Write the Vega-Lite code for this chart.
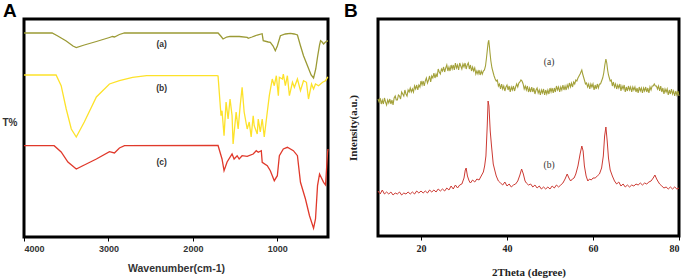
{
 "$schema": "https://vega.github.io/schema/vega-lite/v6.json",
 "padding": {"left": 0, "top": 0, "right": 5, "bottom": 4},
 "background": "white",
 "config": {"view": {"stroke": "#000", "strokeWidth": 3}, "axis": {"grid": false}},
 "spacing": 9,
 "datasets": {
  "fa": [{"w":4000,"t":204},{"w":3667,"t":204},{"w":3600,"t":201},{"w":3500,"t":196},{"w":3420,"t":191},{"w":3381,"t":189.5},{"w":3286,"t":192},{"w":3143,"t":195.5},{"w":2988,"t":199.5},{"w":2952,"t":200.5},{"w":2929,"t":200},{"w":2870,"t":202.5},{"w":2810,"t":204},{"w":1702,"t":204},{"w":1670,"t":201},{"w":1643,"t":198},{"w":1600,"t":200},{"w":1560,"t":200.7},{"w":1450,"t":200.5},{"w":1357,"t":199.7},{"w":1345,"t":198.7},{"w":1300,"t":200},{"w":1238,"t":202},{"w":1180,"t":203.3},{"w":1167,"t":196.3},{"w":1107,"t":195},{"w":1083,"t":194.7},{"w":1050,"t":191},{"w":1024,"t":186.3},{"w":1000,"t":191},{"w":964,"t":201.3},{"w":905,"t":203},{"w":845,"t":203.7},{"w":800,"t":203},{"w":762,"t":202},{"w":726,"t":191.3},{"w":690,"t":181.3},{"w":643,"t":171.3},{"w":600,"t":162},{"w":571,"t":159},{"w":545,"t":168},{"w":524,"t":180},{"w":500,"t":192},{"w":488,"t":196.3},{"w":470,"t":195},{"w":452,"t":193},{"w":430,"t":195},{"w":405,"t":196},{"w":400,"t":196}],
  "fb": [{"w":4000,"t":162},{"w":3620,"t":162},{"w":3560,"t":151.3},{"w":3500,"t":128},{"w":3440,"t":108},{"w":3381,"t":100},{"w":3286,"t":115},{"w":3143,"t":140},{"w":2988,"t":153},{"w":2870,"t":156.3},{"w":2714,"t":159.7},{"w":2548,"t":161.3},{"w":1714,"t":161.3},{"w":1702,"t":161},{"w":1667,"t":121.3},{"w":1655,"t":126.3},{"w":1631,"t":101.3},{"w":1607,"t":135},{"w":1583,"t":118},{"w":1560,"t":138},{"w":1536,"t":121.3},{"w":1524,"t":93},{"w":1488,"t":125},{"w":1464,"t":108},{"w":1440,"t":131.3},{"w":1417,"t":149.7},{"w":1393,"t":125},{"w":1357,"t":108},{"w":1333,"t":115},{"w":1310,"t":100},{"w":1286,"t":121.3},{"w":1274,"t":111.3},{"w":1238,"t":103},{"w":1226,"t":118},{"w":1202,"t":105},{"w":1179,"t":118},{"w":1155,"t":100},{"w":1119,"t":125},{"w":1095,"t":141.3},{"w":1060,"t":158},{"w":1036,"t":151.3},{"w":1012,"t":161.3},{"w":988,"t":141.3},{"w":976,"t":159.7},{"w":940,"t":158},{"w":929,"t":163},{"w":905,"t":151.3},{"w":881,"t":161.3},{"w":857,"t":141.3},{"w":821,"t":154.7},{"w":798,"t":149.7},{"w":762,"t":158},{"w":726,"t":146.3},{"w":690,"t":156.3},{"w":655,"t":154.7},{"w":631,"t":138},{"w":595,"t":153},{"w":571,"t":148},{"w":548,"t":153},{"w":512,"t":151.3},{"w":464,"t":154.7},{"w":429,"t":156.3},{"w":405,"t":159.7},{"w":400,"t":160}],
  "fc": [{"w":4000,"t":91.3},{"w":3643,"t":91.3},{"w":3560,"t":85},{"w":3480,"t":75},{"w":3381,"t":68},{"w":3286,"t":72},{"w":3143,"t":78},{"w":2988,"t":85.3},{"w":2929,"t":84},{"w":2870,"t":89},{"w":2810,"t":91.3},{"w":1702,"t":91.5},{"w":1655,"t":78},{"w":1631,"t":66.3},{"w":1595,"t":75},{"w":1536,"t":83},{"w":1512,"t":78},{"w":1476,"t":81.3},{"w":1452,"t":78},{"w":1417,"t":81.3},{"w":1357,"t":80.7},{"w":1286,"t":83},{"w":1250,"t":86.3},{"w":1226,"t":84.7},{"w":1190,"t":86.3},{"w":1179,"t":74.7},{"w":1119,"t":71.3},{"w":1083,"t":66.3},{"w":1036,"t":56.3},{"w":1000,"t":61.3},{"w":976,"t":81.3},{"w":929,"t":88},{"w":881,"t":89.7},{"w":810,"t":86.3},{"w":762,"t":81.3},{"w":726,"t":54.7},{"w":667,"t":38},{"w":619,"t":21.3},{"w":571,"t":8.7},{"w":548,"t":18},{"w":524,"t":51.3},{"w":500,"t":63},{"w":452,"t":54.7},{"w":429,"t":52},{"w":405,"t":84.7},{"w":400,"t":88}],
  "la": [{"w":2370,"t":193,"label":"(a)"},{"w":2370,"t":149,"label":"(b)"},{"w":2370,"t":75,"label":"(c)"}],
  "xa": [{"x":10,"y":137},{"x":10.25,"y":134},{"x":10.5,"y":138},{"x":10.75,"y":132},{"x":11,"y":136},{"x":11.25,"y":132},{"x":11.5,"y":138},{"x":11.75,"y":134},{"x":12,"y":131},{"x":12.25,"y":136},{"x":12.5,"y":133},{"x":12.75,"y":137},{"x":13,"y":132},{"x":13.25,"y":136},{"x":13.5,"y":131},{"x":13.75,"y":138},{"x":14,"y":140},{"x":14.25,"y":136},{"x":14.5,"y":136},{"x":14.75,"y":141},{"x":15,"y":140},{"x":15.25,"y":137},{"x":15.5,"y":144},{"x":15.75,"y":142},{"x":16,"y":140},{"x":16.25,"y":146},{"x":16.5,"y":142},{"x":16.75,"y":140},{"x":17,"y":146},{"x":17.25,"y":144},{"x":17.5,"y":148},{"x":17.75,"y":144},{"x":18,"y":147},{"x":18.25,"y":144},{"x":18.5,"y":150},{"x":18.75,"y":147},{"x":19,"y":151},{"x":19.25,"y":146},{"x":19.5,"y":151},{"x":19.75,"y":149},{"x":20,"y":155},{"x":20.25,"y":151},{"x":20.5,"y":155},{"x":20.75,"y":150},{"x":21,"y":155},{"x":21.25,"y":158},{"x":21.5,"y":153},{"x":21.75,"y":156},{"x":22,"y":160},{"x":22.25,"y":154},{"x":22.5,"y":160},{"x":22.75,"y":158},{"x":23,"y":163},{"x":23.25,"y":158},{"x":23.5,"y":162},{"x":23.75,"y":159},{"x":24,"y":167},{"x":24.25,"y":164},{"x":24.5,"y":162},{"x":24.75,"y":167},{"x":25,"y":165},{"x":25.25,"y":169},{"x":25.5,"y":164},{"x":25.75,"y":168},{"x":26,"y":171},{"x":26.25,"y":165},{"x":26.5,"y":169},{"x":26.75,"y":165},{"x":27,"y":171},{"x":27.25,"y":167},{"x":27.5,"y":171},{"x":27.75,"y":166},{"x":28,"y":173},{"x":28.25,"y":168},{"x":28.5,"y":171},{"x":28.75,"y":166},{"x":29,"y":173},{"x":29.25,"y":170},{"x":29.5,"y":167},{"x":29.75,"y":172},{"x":30,"y":169},{"x":30.25,"y":173},{"x":30.5,"y":167},{"x":30.75,"y":171},{"x":31,"y":173},{"x":31.25,"y":167},{"x":31.5,"y":171},{"x":31.75,"y":165},{"x":32,"y":169},{"x":32.25,"y":165},{"x":32.5,"y":168},{"x":32.75,"y":162},{"x":33,"y":165},{"x":33.25,"y":162},{"x":33.5,"y":166},{"x":33.75,"y":161},{"x":34,"y":165},{"x":34.25,"y":162},{"x":34.5,"y":165},{"x":34.75,"y":166},{"x":35,"y":170},{"x":35.2,"y":177},{"x":35.4,"y":185},{"x":35.6,"y":193},{"x":35.75,"y":196},{"x":35.9,"y":190},{"x":36.05,"y":183},{"x":36.25,"y":175},{"x":36.5,"y":168},{"x":36.75,"y":164},{"x":37,"y":160},{"x":37.25,"y":157},{"x":37.5,"y":155},{"x":37.75,"y":156},{"x":38,"y":150},{"x":38.25,"y":152},{"x":38.5,"y":147},{"x":38.75,"y":152},{"x":39,"y":147},{"x":39.25,"y":150},{"x":39.5,"y":145},{"x":39.75,"y":149},{"x":40,"y":151},{"x":40.25,"y":146},{"x":40.5,"y":150},{"x":40.75,"y":144},{"x":41,"y":149},{"x":41.25,"y":146},{"x":41.5,"y":150},{"x":41.75,"y":145},{"x":42,"y":149},{"x":42.25,"y":152},{"x":42.5,"y":149},{"x":42.75,"y":153},{"x":43,"y":154},{"x":43.25,"y":156},{"x":43.5,"y":155},{"x":43.75,"y":152},{"x":44,"y":147},{"x":44.25,"y":150},{"x":44.5,"y":146},{"x":44.75,"y":150},{"x":45,"y":144},{"x":45.25,"y":148},{"x":45.5,"y":144},{"x":45.75,"y":149},{"x":46,"y":144},{"x":46.25,"y":148},{"x":46.5,"y":142},{"x":46.75,"y":146},{"x":47,"y":148},{"x":47.25,"y":143},{"x":47.5,"y":146},{"x":47.75,"y":141},{"x":48,"y":146},{"x":48.25,"y":143},{"x":48.5,"y":147},{"x":48.75,"y":141},{"x":49,"y":146},{"x":49.25,"y":142},{"x":49.5,"y":146},{"x":49.75,"y":142},{"x":50,"y":148},{"x":50.25,"y":144},{"x":50.5,"y":148},{"x":50.75,"y":143},{"x":51,"y":148},{"x":51.25,"y":144},{"x":51.5,"y":150},{"x":51.75,"y":146},{"x":52,"y":149},{"x":52.25,"y":144},{"x":52.5,"y":149},{"x":52.75,"y":146},{"x":53,"y":151},{"x":53.25,"y":146},{"x":53.5,"y":150},{"x":53.75,"y":146},{"x":54,"y":151},{"x":54.25,"y":148},{"x":54.5,"y":153},{"x":54.75,"y":149},{"x":55,"y":153},{"x":55.25,"y":149},{"x":55.5,"y":154},{"x":55.75,"y":152},{"x":56,"y":156},{"x":56.25,"y":155},{"x":56.5,"y":158},{"x":56.75,"y":160},{"x":57,"y":162},{"x":57.2,"y":164},{"x":57.4,"y":166},{"x":57.6,"y":162},{"x":57.8,"y":159},{"x":58,"y":156},{"x":58.25,"y":152},{"x":58.5,"y":153},{"x":58.75,"y":149},{"x":59,"y":152},{"x":59.25,"y":147},{"x":59.5,"y":152},{"x":59.75,"y":149},{"x":60,"y":152},{"x":60.25,"y":146},{"x":60.5,"y":151},{"x":60.75,"y":147},{"x":61,"y":152},{"x":61.25,"y":148},{"x":61.5,"y":152},{"x":61.75,"y":152},{"x":62,"y":155},{"x":62.25,"y":158},{"x":62.5,"y":163},{"x":62.75,"y":171},{"x":63,"y":177},{"x":63.2,"y":173},{"x":63.4,"y":166},{"x":63.6,"y":161},{"x":63.8,"y":158},{"x":64,"y":155},{"x":64.25,"y":156},{"x":64.5,"y":150},{"x":64.75,"y":154},{"x":65,"y":149},{"x":65.25,"y":152},{"x":65.5,"y":147},{"x":65.75,"y":151},{"x":66,"y":148},{"x":66.25,"y":152},{"x":66.5,"y":145},{"x":66.75,"y":150},{"x":67,"y":147},{"x":67.25,"y":151},{"x":67.5,"y":144},{"x":67.75,"y":149},{"x":68,"y":145},{"x":68.25,"y":150},{"x":68.5,"y":146},{"x":68.75,"y":149},{"x":69,"y":144},{"x":69.25,"y":149},{"x":69.5,"y":146},{"x":69.75,"y":149},{"x":70,"y":144},{"x":70.25,"y":148},{"x":70.5,"y":143},{"x":70.75,"y":149},{"x":71,"y":145},{"x":71.25,"y":148},{"x":71.5,"y":143},{"x":71.75,"y":148},{"x":72,"y":145},{"x":72.25,"y":149},{"x":72.5,"y":144},{"x":72.75,"y":148},{"x":73,"y":143},{"x":73.25,"y":149},{"x":73.5,"y":146},{"x":73.75,"y":150},{"x":74,"y":150},{"x":74.25,"y":152},{"x":74.5,"y":150},{"x":74.75,"y":150},{"x":75,"y":147},{"x":75.25,"y":150},{"x":75.5,"y":145},{"x":75.75,"y":150},{"x":76,"y":144},{"x":76.25,"y":148},{"x":76.5,"y":142},{"x":76.75,"y":147},{"x":77,"y":144},{"x":77.25,"y":147},{"x":77.5,"y":141},{"x":77.75,"y":146},{"x":78,"y":142},{"x":78.25,"y":147},{"x":78.5,"y":142},{"x":78.75,"y":145},{"x":79,"y":140},{"x":79.25,"y":145},{"x":79.5,"y":141},{"x":79.75,"y":145},{"x":80,"y":140}],
  "xb": [{"x":10,"y":45},{"x":10.5,"y":42},{"x":11,"y":46},{"x":11.5,"y":42},{"x":12,"y":44},{"x":12.5,"y":42},{"x":13,"y":44},{"x":13.5,"y":41},{"x":14,"y":43},{"x":14.5,"y":42},{"x":15,"y":44},{"x":15.5,"y":41},{"x":16,"y":43},{"x":16.5,"y":42},{"x":17,"y":44},{"x":17.5,"y":42},{"x":18,"y":44},{"x":18.5,"y":42},{"x":19,"y":45},{"x":19.5,"y":43},{"x":20,"y":45},{"x":20.5,"y":43},{"x":21,"y":45},{"x":21.5,"y":43},{"x":22,"y":46},{"x":22.5,"y":44},{"x":23,"y":46},{"x":23.5,"y":44},{"x":24,"y":47},{"x":24.5,"y":45},{"x":25,"y":47},{"x":25.5,"y":45},{"x":26,"y":48},{"x":26.5,"y":46},{"x":27,"y":50},{"x":27.5,"y":47},{"x":28,"y":51},{"x":28.5,"y":48},{"x":29,"y":51},{"x":29.5,"y":52},{"x":30,"y":58},{"x":30.3,"y":66},{"x":30.5,"y":68},{"x":30.8,"y":60},{"x":31.2,"y":55},{"x":31.5,"y":53},{"x":32,"y":56},{"x":32.5,"y":54},{"x":33,"y":57},{"x":33.5,"y":56},{"x":34,"y":60},{"x":34.5,"y":64},{"x":34.8,"y":70},{"x":35.1,"y":80},{"x":35.4,"y":110},{"x":35.6,"y":135},{"x":35.8,"y":130},{"x":36.1,"y":105},{"x":36.4,"y":90},{"x":36.8,"y":72},{"x":37.2,"y":65},{"x":37.5,"y":60},{"x":38,"y":55},{"x":38.5,"y":53},{"x":39,"y":51},{"x":39.5,"y":54},{"x":40,"y":50},{"x":40.5,"y":52},{"x":41,"y":49},{"x":41.5,"y":51},{"x":42,"y":52},{"x":42.5,"y":55},{"x":43,"y":61},{"x":43.4,"y":67},{"x":43.8,"y":62},{"x":44.2,"y":55},{"x":44.5,"y":53},{"x":45,"y":51},{"x":45.5,"y":52},{"x":46,"y":49},{"x":46.5,"y":51},{"x":47,"y":48},{"x":47.5,"y":50},{"x":48,"y":47},{"x":48.5,"y":49},{"x":49,"y":47},{"x":49.5,"y":49},{"x":50,"y":47},{"x":50.5,"y":50},{"x":51,"y":48},{"x":51.5,"y":51},{"x":52,"y":49},{"x":52.5,"y":51},{"x":53,"y":53},{"x":53.5,"y":57},{"x":54,"y":62},{"x":54.4,"y":58},{"x":54.8,"y":55},{"x":55.2,"y":57},{"x":55.6,"y":58},{"x":56,"y":62},{"x":56.5,"y":70},{"x":57,"y":82},{"x":57.4,"y":90},{"x":57.7,"y":85},{"x":58,"y":70},{"x":58.4,"y":60},{"x":58.8,"y":55},{"x":59.2,"y":57},{"x":59.6,"y":56},{"x":60,"y":58},{"x":60.5,"y":58},{"x":61,"y":60},{"x":61.5,"y":62},{"x":62,"y":68},{"x":62.4,"y":80},{"x":62.7,"y":100},{"x":63,"y":109},{"x":63.3,"y":95},{"x":63.6,"y":78},{"x":64,"y":66},{"x":64.5,"y":60},{"x":65,"y":55},{"x":65.5,"y":52},{"x":66,"y":54},{"x":66.5,"y":50},{"x":67,"y":52},{"x":67.5,"y":49},{"x":68,"y":51},{"x":68.5,"y":49},{"x":69,"y":51},{"x":69.5,"y":50},{"x":70,"y":52},{"x":70.5,"y":51},{"x":71,"y":53},{"x":71.5,"y":51},{"x":72,"y":53},{"x":72.5,"y":52},{"x":73,"y":54},{"x":73.5,"y":55},{"x":74,"y":58},{"x":74.4,"y":61},{"x":74.8,"y":57},{"x":75.2,"y":54},{"x":75.5,"y":52},{"x":76,"y":50},{"x":76.5,"y":48},{"x":77,"y":49},{"x":77.5,"y":47},{"x":78,"y":49},{"x":78.5,"y":47},{"x":79,"y":49},{"x":79.5,"y":47},{"x":80,"y":48}],
  "lb": [{"x":49.8,"y":174,"label":"(a)"},{"x":49.8,"y":71,"label":"(b)"}]
 },
 "hconcat": [
  {
   "width": 304, "height": 218,
   "title": {"text": "A", "anchor": "start", "frame": "group", "fontSize": 19, "font": "Liberation Sans", "fontWeight": "bold", "color": "#000", "dx": -21, "offset": -2},
   "layer": [
    {"data": {"name": "fa"}, "mark": {"type": "line", "color": "#9b9a35", "strokeWidth": 1.3},
     "encoding": {
      "x": {"field": "w", "type": "quantitative", "scale": {"domain": [400, 4000], "reverse": true, "nice": false, "zero": false},
            "axis": {"values": [1000, 2000, 3000, 4000], "format": "d", "title": "Wavenumber(cm-1)", "domain": false, "tickColor": "#000", "tickSize": 4, "labelPadding": 3, "labelFont": "Liberation Sans", "labelFontWeight": "bold", "labelFontSize": 9, "labelColor": "#333", "titleFont": "Liberation Sans", "titleFontWeight": "bold", "titleFontSize": 10.5, "titleColor": "#333", "titlePadding": 10}},
      "y": {"field": "t", "type": "quantitative", "scale": {"domain": [0, 218], "nice": false, "zero": false},
            "axis": {"title": "T%", "labels": false, "ticks": false, "domain": false, "titleAngle": 0, "titleX": -22, "titleY": 103, "titleAlign": "left", "titleBaseline": "middle", "titleFont": "Liberation Sans", "titleFontWeight": "bold", "titleFontSize": 10, "titleColor": "#333"}}
     }},
    {"data": {"name": "fb"}, "mark": {"type": "line", "color": "#fde22a", "strokeWidth": 1.3},
     "encoding": {"x": {"field": "w", "type": "quantitative"}, "y": {"field": "t", "type": "quantitative"}}},
    {"data": {"name": "fc"}, "mark": {"type": "line", "color": "#e0392b", "strokeWidth": 1.3},
     "encoding": {"x": {"field": "w", "type": "quantitative"}, "y": {"field": "t", "type": "quantitative"}}},
    {"data": {"name": "la"}, "mark": {"type": "text", "font": "Liberation Sans", "fontWeight": "bold", "fontSize": 8.5, "color": "#333"},
     "encoding": {"x": {"field": "w", "type": "quantitative"}, "y": {"field": "t", "type": "quantitative"}, "text": {"field": "label"}}}
   ]
  },
  {
   "width": 301, "height": 217,
   "title": {"text": "B", "anchor": "start", "frame": "group", "fontSize": 19, "font": "Liberation Sans", "fontWeight": "bold", "color": "#000", "dx": -34, "offset": -2},
   "layer": [
    {"data": {"name": "xa"}, "mark": {"type": "line", "color": "#a3a13a", "strokeWidth": 1.1},
     "encoding": {
      "x": {"field": "x", "type": "quantitative", "scale": {"domain": [10, 80], "nice": false, "zero": false},
            "axis": {"values": [20, 40, 60, 80], "title": "2Theta (degree)", "domain": false, "tickColor": "#000", "tickSize": 4, "labelPadding": 3, "labelFont": "Liberation Serif", "labelFontWeight": "bold", "labelFontSize": 10, "labelColor": "#222", "titleFont": "Liberation Serif", "titleFontWeight": "bold", "titleFontSize": 11, "titleColor": "#222", "titlePadding": 13}},
      "y": {"field": "y", "type": "quantitative", "scale": {"domain": [0, 217], "nice": false, "zero": false},
            "axis": {"title": "Intensity(a.u.)", "labels": false, "ticks": false, "domain": false, "titlePadding": 20, "titleFont": "Liberation Serif", "titleFontWeight": "bold", "titleFontSize": 11, "titleColor": "#222"}}
     }},
    {"data": {"name": "xb"}, "mark": {"type": "line", "color": "#cc3a33", "strokeWidth": 1},
     "encoding": {"x": {"field": "x", "type": "quantitative"}, "y": {"field": "y", "type": "quantitative"}}},
    {"data": {"name": "lb"}, "mark": {"type": "text", "font": "Liberation Serif", "fontSize": 9.5, "color": "#333"},
     "encoding": {"x": {"field": "x", "type": "quantitative"}, "y": {"field": "y", "type": "quantitative"}, "text": {"field": "label"}}}
   ]
  }
 ]
}
